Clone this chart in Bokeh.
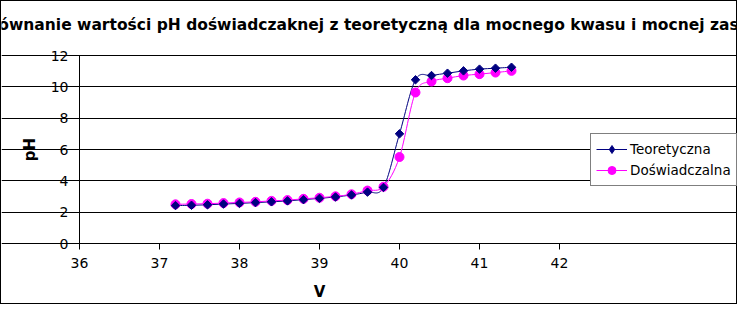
import numpy as np
from bokeh.plotting import figure
from bokeh.models import Range1d, FixedTicker, Legend, LegendItem, Label
from bokeh.embed import file_html
from bokeh.resources import INLINE

# ---- data ----
v = [37.2, 37.4, 37.6, 37.8, 38.0, 38.2, 38.4, 38.6, 38.8, 39.0, 39.2,
     39.4, 39.6, 39.8, 40.0, 40.2, 40.4, 40.6, 40.8, 41.0, 41.2, 41.4]
ph_teoretyczna = [2.42, 2.44, 2.47, 2.52, 2.56, 2.61, 2.66, 2.72, 2.80, 2.88, 2.97,
                  3.10, 3.28, 3.58, 7.00, 10.45, 10.72, 10.87, 11.02, 11.13, 11.19, 11.25]
ph_doswiadczalna = [2.50, 2.52, 2.54, 2.58, 2.62, 2.66, 2.72, 2.77, 2.85, 2.92, 3.01,
                    3.14, 3.38, 3.62, 5.52, 9.64, 10.34, 10.55, 10.72, 10.81, 10.91, 11.02]
x_ticks = [36, 37, 38, 39, 40, 41, 42]
y_ticks = [0, 2, 4, 6, 8, 10, 12]
title_text = "Porównanie wartości pH doświadczaknej z teoretyczną dla mocnego kwasu i mocnej zasady"
series_names = ["Teoretyczna", "Doświadczalna"]

NAVY = "#000080"
MAGENTA = "#FF00FF"
FONT = "DejaVu Sans"

# ---- layout (pixels inside the bordered chart) ----
W, H = 737, 304
PL, PR, PT, PB = 78, 558, 54, 242      # plot-area edges


def smooth(xs, ys):
    """Bezier segments (Catmull-Rom style, like a spreadsheet's smoothed line)."""
    xs = np.asarray(xs, float)
    ys = np.asarray(ys, float)
    n = len(xs)
    xp = np.concatenate([[xs[0]], xs, [xs[-1]]])
    yp = np.concatenate([[ys[0]], ys, [ys[-1]]])
    return dict(
        x0=xs[:-1], y0=ys[:-1], x1=xs[1:], y1=ys[1:],
        cx0=xs[:-1] + (xp[2:n + 1] - xp[0:n - 1]) / 6.0,
        cy0=ys[:-1] + (yp[2:n + 1] - yp[0:n - 1]) / 6.0,
        cx1=xs[1:] - (xp[3:n + 2] - xp[1:n]) / 6.0,
        cy1=ys[1:] - (yp[3:n + 2] - yp[1:n]) / 6.0,
    )


x0, x1 = x_ticks[0], x_ticks[-1]
y0, y1 = y_ticks[0], y_ticks[-1]
dx = (x1 - x0) / (PR - PL)
dy = (y1 - y0) / (PB - PT)
x_range = Range1d(x0 - PL * dx, x1 + (W - PR) * dx)
y_range = Range1d(y0 - (H - PB) * dy, y1 + PT * dy)

p = figure(width=W, height=H, output_backend="svg", toolbar_location=None,
           title=None, x_range=x_range, y_range=y_range, min_border=0)
p.styles = {"border": "1px solid black"}
p.outline_line_color = None
p.background_fill_color = "white"
p.border_fill_color = "white"

# axes pinned to the plot area
for ax in (p.xaxis[0], p.yaxis[0]):
    ax.axis_line_color = "black"
    ax.major_tick_line_color = "black"
    ax.major_tick_in = 0
    ax.major_tick_out = 6
    ax.minor_tick_line_color = None
    ax.major_label_text_font = FONT
    ax.major_label_text_font_size = "14px"
    ax.major_label_text_color = "black"
    ax.axis_label_text_font = FONT
    ax.axis_label_text_font_size = "15px"
    ax.axis_label_text_font_style = "bold"
    ax.axis_label_text_color = "black"

p.xaxis.fixed_location = y0
p.xaxis.bounds = (x0, x1)
p.yaxis.fixed_location = x0
p.yaxis.bounds = (y0, y1)
p.xaxis.ticker = FixedTicker(ticks=x_ticks)
p.yaxis.ticker = FixedTicker(ticks=y_ticks)
p.xaxis.major_label_standoff = 8
p.yaxis.major_label_standoff = 5
p.xaxis.axis_label = "V"
p.yaxis.axis_label = "pH"
p.xaxis.axis_label_standoff = 12
p.yaxis.axis_label_standoff = 9

p.xgrid.grid_line_color = None
p.ygrid.ticker = FixedTicker(ticks=y_ticks)
p.ygrid.bounds = (x0, x1)
p.ygrid.grid_line_color = "black"
p.ygrid.grid_line_width = 1

# series
b1 = p.bezier(line_color=NAVY, line_width=1, **smooth(v, ph_teoretyczna))
b2 = p.bezier(line_color=MAGENTA, line_width=1, **smooth(v, ph_doswiadczalna))
s2 = p.scatter(v, ph_doswiadczalna, marker="circle", size=9,
               fill_color=MAGENTA, line_color=MAGENTA)
s1 = p.scatter(v, ph_teoretyczna, marker="square", size=6, angle=np.pi / 4,
               fill_color=NAVY, line_color=NAVY)
# diamond glyph used only for the legend key (zero size on the plot)
s1_key = p.scatter(v, ph_teoretyczna, marker="diamond", size=0,
                   fill_color=NAVY, line_color=NAVY)

legend = Legend(
    items=[LegendItem(label=series_names[0], renderers=[b1, s1_key]),
           LegendItem(label=series_names[1], renderers=[b2, s2])],
    location=(589, H - 185),
    border_line_color="black", border_line_width=1,
    background_fill_color="white", background_fill_alpha=1,
    label_text_font=FONT, label_text_font_size="13.5px", label_text_color="black",
    glyph_width=31, glyph_height=20, label_height=20, label_standoff=3,
    padding=5, spacing=1, margin=0,
)
p.add_layout(legend)

title = Label(x=368, y=H - 23, x_units="screen", y_units="screen", text=title_text,
              text_align="center", text_baseline="middle",
              text_font=FONT, text_font_size="15.5px", text_font_style="bold",
              text_color="black")
p.add_layout(title)

open("out.html", "w").write(file_html(p, INLINE))
